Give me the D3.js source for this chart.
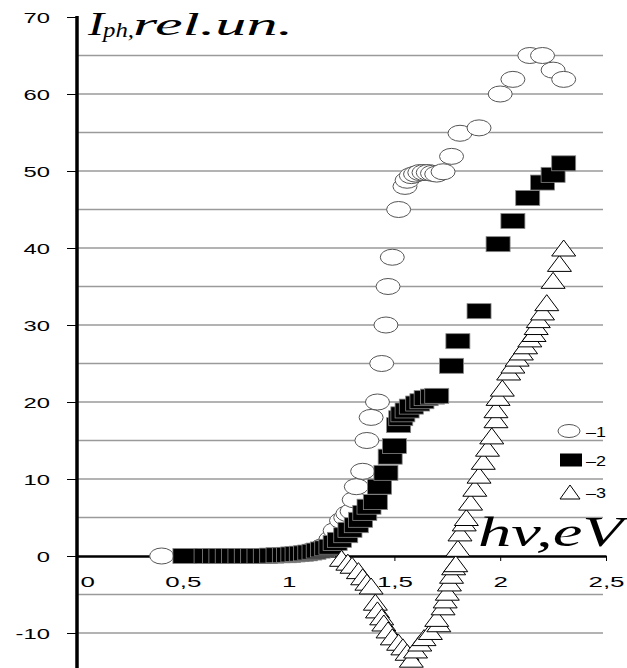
<!DOCTYPE html>
<html><head><meta charset="utf-8">
<script src="https://cdn.jsdelivr.net/npm/d3@7"></script>
<style>html,body{margin:0;padding:0;background:#fff;} svg{display:block}</style>
</head><body><svg id="c" width="627" height="668"></svg>
<script>
// ---------- data ----------
const xTicks = [0, 0.5, 1, 1.5, 2, 2.5];
const yTicks = [-10, 0, 10, 20, 30, 40, 50, 60, 70];
const gridValues = [-10, -5, 5, 10, 15, 20, 25, 30, 35, 40, 45, 50, 55, 60, 65];
const seriesLabels = ["–1", "–2", "–3"];

// series 1 (open circles)
const s1hv = [0.40, 1.05, 1.10, 1.16, 1.20, 1.22, 1.25, 1.27, 1.28, 1.30, 1.31, 1.32, 1.35, 1.37, 1.39, 1.42, 1.44, 1.46, 1.47, 1.49, 1.52, 1.55, 1.56, 1.58, 1.60, 1.62, 1.64, 1.66, 1.68, 1.70, 1.73, 1.77, 1.81, 1.90, 2.00, 2.06, 2.14, 2.20, 2.25, 2.30];
const s1I  = [0, 0.3, 0.6, 1.2, 2.2, 3.3, 4.6, 5.0, 5.5, 5.8, 7.3, 9.0, 11, 15, 18, 20, 25, 30, 35, 38.8, 45, 48, 48.8, 49.4, 49.6, 49.8, 49.8, 49.8, 49.7, 49.6, 49.9, 51.9, 54.9, 55.6, 60, 61.9, 65, 65, 63.1, 61.9];

// series 2 (filled squares)
const s2hv = [0.51, 0.61, 0.65, 0.68, 0.71, 0.74, 0.77, 0.80, 0.83, 0.86, 0.89, 0.92, 0.95, 0.98, 1.00, 1.02, 1.04, 1.06, 1.08, 1.10, 1.12, 1.14, 1.16, 1.18, 1.20, 1.22, 1.24, 1.27, 1.29, 1.32, 1.34, 1.36, 1.38, 1.41, 1.43, 1.46, 1.48, 1.50, 1.52, 1.53, 1.54, 1.56, 1.58, 1.61, 1.63, 1.65, 1.68, 1.70, 1.77, 1.80, 1.90, 1.99, 2.06, 2.13, 2.20, 2.25, 2.30];
const s2I  = [0, 0, 0, 0, 0, 0, 0, 0, 0, 0, 0, 0.05, 0.1, 0.1, 0.15, 0.2, 0.25, 0.3, 0.35, 0.45, 0.55, 0.7, 0.85, 1.0, 1.2, 1.7, 2.1, 2.7, 3.4, 4.0, 4.7, 5.6, 6.4, 7.0, 9.0, 10.8, 12.9, 14.3, 17.0, 17.9, 18.4, 18.9, 19.4, 19.8, 20.1, 20.5, 20.7, 20.8, 24.7, 27.9, 31.8, 40.5, 43.5, 46.5, 48.5, 49.5, 51.0];

// series 3 (open triangles)
const s3hv = [1.25, 1.28, 1.30, 1.33, 1.35, 1.37, 1.39, 1.41, 1.42, 1.44, 1.45, 1.47, 1.49, 1.52, 1.54, 1.56, 1.58, 1.60, 1.62, 1.64, 1.67, 1.71, 1.70, 1.73, 1.74, 1.75, 1.76, 1.77, 1.78, 1.79, 1.80, 1.81, 1.83, 1.84, 1.86, 1.88, 1.90, 1.92, 1.94, 1.96, 1.98, 1.98, 1.99, 2.01, 2.04, 2.06, 2.08, 2.10, 2.12, 2.14, 2.16, 2.17, 2.18, 2.20, 2.22, 2.25, 2.28, 2.30];
const s3I  = [-0.3, -0.8, -1.2, -1.9, -2.7, -3.4, -3.9, -6.0, -7.0, -7.9, -8.7, -9.6, -10.5, -11.2, -11.8, -12.5, -13.4, -12.2, -11.3, -10.6, -9.8, -8.8, -8.1, -6.6, -5.7, -4.7, -3.5, -2.5, -1.4, -1.0, 1.0, 3.0, 4.3, 5.0, 7.0, 8.8, 10.5, 12.3, 14.0, 15.6, 17.7, 19.0, 20.6, 21.8, 23.9, 24.8, 25.7, 26.5, 27.3, 28.2, 28.9, 29.8, 30.7, 31.7, 32.9, 35.8, 38.0, 40.0];

// ---------- chart ----------
const W = 627, H = 668;
const x = d3.scaleLinear().domain([0, 2.5]).range([77, 606]);
const y = d3.scaleLinear().domain([0, 70]).range([556, 17]);
const svg = d3.select("#c");
const sans = "'Liberation Sans', Arial, sans-serif";
const serif = "'Liberation Serif', 'Times New Roman', serif";

// gridlines
svg.append("g").selectAll("line").data(gridValues).join("line")
  .attr("x1", x(0)).attr("x2", 603)
  .attr("y1", d => y(d)).attr("y2", d => y(d))
  .attr("stroke", "#9a9a9a").attr("stroke-width", 1.3);

// y axis
const gy = svg.append("g").attr("transform", `translate(${x(0)},0)`)
  .call(d3.axisLeft(y).tickValues(yTicks).tickSize(10).tickSizeOuter(0).tickFormat(d => d));
gy.select(".domain").remove();
gy.attr("font-family", sans).attr("font-size", 14);
gy.selectAll(".tick line").attr("stroke", "#000").attr("stroke-width", 1);
gy.selectAll(".tick text").attr("x", 0).attr("dy", 0).attr("fill", "#000")
  .attr("text-anchor", "end").attr("transform", "translate(-27,5) scale(1.7,1)");
svg.append("line").attr("x1", x(0)).attr("x2", x(0)).attr("y1", y(70) - 1).attr("y2", H)
  .attr("stroke", "#000").attr("stroke-width", 3.5);

// x axis
const gx = svg.append("g").attr("transform", `translate(0,${y(0)})`)
  .call(d3.axisBottom(x).tickValues(xTicks).tickSize(5).tickSizeOuter(0)
    .tickFormat(d => String(d).replace(".", ",")));
gx.attr("font-family", sans).attr("font-size", 14);
gx.select(".domain").attr("stroke", "#000").attr("stroke-width", 2.5);
gx.selectAll(".tick line").attr("stroke", "#000").attr("stroke-width", 1);
gx.selectAll(".tick text").attr("y", 0).attr("dy", 0).attr("fill", "#000")
  .attr("text-anchor", d => d === 0 ? "start" : "middle")
  .attr("transform", d => d === 0 ? "translate(3,31) scale(1.85,1)" : "translate(0,31) scale(1.85,1)");

// markers
const tri = "M0,-8L12,8L-12,8Z";
const p1 = s1hv.map((v, i) => [v, s1I[i]]);
const p2 = s2hv.map((v, i) => [v, s2I[i]]);
const p3 = s3hv.map((v, i) => [v, s3I[i]]);

svg.append("g").selectAll("ellipse").data(p1).join("ellipse")
  .attr("cx", d => x(d[0])).attr("cy", d => y(d[1])).attr("rx", 12).attr("ry", 8)
  .attr("fill", "#fff").attr("stroke", "#555").attr("stroke-width", 1);
svg.append("g").selectAll("rect").data(p2).join("rect")
  .attr("x", d => x(d[0]) - 12).attr("y", d => y(d[1]) - 7.5).attr("width", 24).attr("height", 15)
  .attr("fill", "#000").attr("stroke", "#888").attr("stroke-width", 0.8);
svg.append("g").selectAll("path").data(p3).join("path")
  .attr("transform", d => `translate(${x(d[0])},${y(d[1])})`).attr("d", tri)
  .attr("fill", "#fff").attr("stroke", "#000").attr("stroke-width", 1);

// axis titles
svg.append("text").attr("x", 88).attr("y", 35).attr("font-family", serif).attr("font-style", "italic")
  .attr("font-size", 34).attr("textLength", 16).attr("lengthAdjust", "spacingAndGlyphs").text("I");
svg.append("text").attr("x", 103).attr("y", 37).attr("font-family", serif).attr("font-style", "italic")
  .attr("font-size", 21).attr("textLength", 31).attr("lengthAdjust", "spacingAndGlyphs").text("ph,");
svg.append("text").attr("x", 133).attr("y", 35).attr("font-family", serif).attr("font-style", "italic")
  .attr("font-size", 32).attr("textLength", 160).attr("lengthAdjust", "spacingAndGlyphs").text("rel.un.");
svg.append("text").attr("x", 478).attr("y", 546).attr("font-family", serif).attr("font-style", "italic")
  .attr("font-size", 42).attr("textLength", 145).attr("lengthAdjust", "spacingAndGlyphs").text("hv,eV");

// legend
const lg = svg.append("g");
const rows = [{y: 431, t: seriesLabels[0]}, {y: 460, t: seriesLabels[1]}, {y: 492, t: seriesLabels[2]}];
lg.append("ellipse").attr("cx", 569).attr("cy", rows[0].y).attr("rx", 11).attr("ry", 6.5)
  .attr("fill", "#fff").attr("stroke", "#555");
lg.append("rect").attr("x", 560).attr("y", rows[1].y - 6.5).attr("width", 22).attr("height", 13).attr("fill", "#000");
lg.append("path").attr("transform", `translate(570,${rows[2].y})`).attr("d", "M0,-7L10,7L-10,7Z")
  .attr("fill", "#fff").attr("stroke", "#000");
lg.selectAll("text").data(rows).join("text")
  .attr("transform", d => `translate(586,${d.y + 6}) scale(1.2,1)`)
  .attr("font-family", sans).attr("font-size", 15).attr("fill", "#000").text(d => d.t);
</script>
</body></html>
